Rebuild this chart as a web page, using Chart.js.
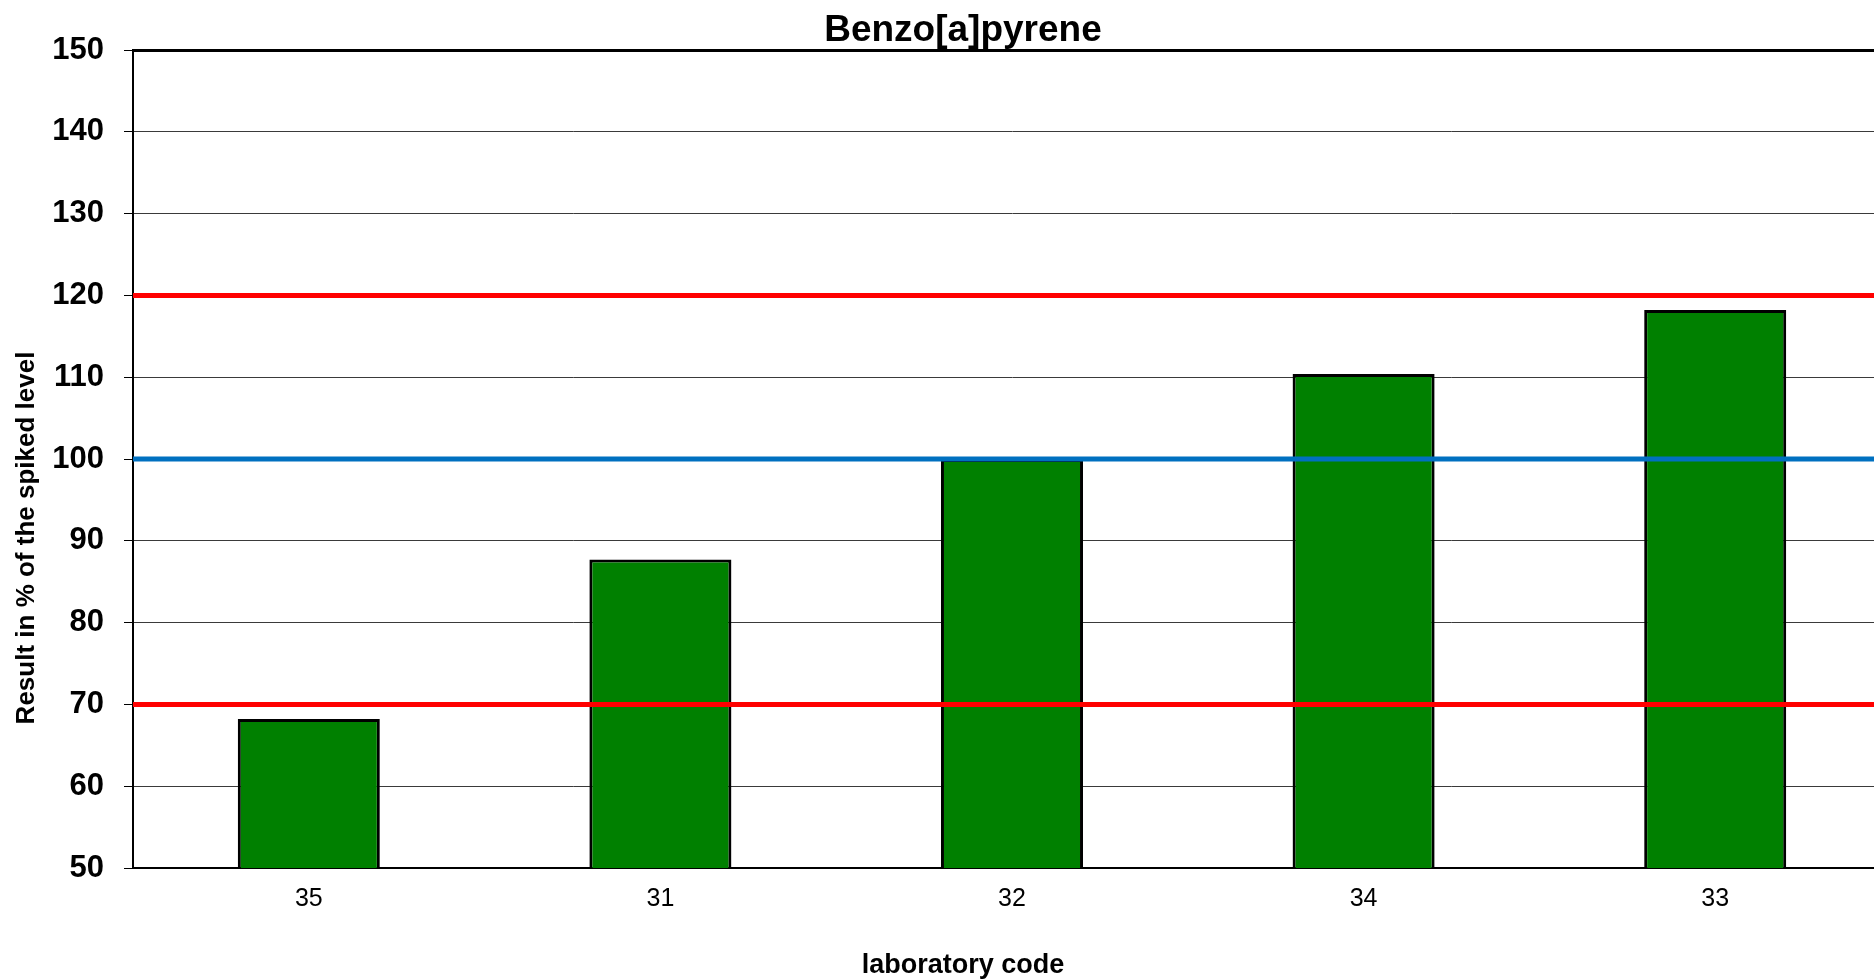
<!DOCTYPE html>
<html>
<head>
<meta charset="utf-8">
<script src="https://cdn.jsdelivr.net/npm/chart.js@4"></script>
<style>
  html, body { margin: 0; padding: 0; background: #fff; overflow: hidden; }
  #chart { display: block; }
</style>
</head>
<body>
<canvas id="chart" width="1900" height="980"></canvas>
<script>
const FONT = "'Liberation Sans', Arial, Helvetica, sans-serif";

// data
const labCodes = ['35', '31', '32', '34', '33'];
const resultPercent = [68.2, 87.7, 100.0, 110.4, 118.2];
const limitLines = [120, 70];   // red
const targetLines = [100];      // blue
const yMin = 50, yMax = 150, yStep = 10;

const chartTitle = 'Benzo[a]pyrene';
const xTitle = 'laboratory code';
const yTitle = 'Result in % of the spiked level';

//? horizontal reference lines, drawn over the bars
const refLinesPlugin = {
    id: 'refLines',
    afterDatasetsDraw: (chart) => {
        const { ctx, chartArea, scales } = chart;
        const drawAt = (value, color) => {
            const y = scales.y.getPixelForValue(value);
            ctx.save();
            ctx.strokeStyle = color;
            ctx.lineWidth = 5;
            ctx.beginPath();
            ctx.moveTo(chartArea.left, y);
            ctx.lineTo(chartArea.right, y);
            ctx.stroke();
            ctx.restore();
        };
        limitLines.forEach(v => drawAt(v, '#ff0000'));
        targetLines.forEach(v => drawAt(v, '#0070c0'));
    }
};

//? titles: the original sits off-centre (its plot runs past the right edge)
const titlesPlugin = {
    id: 'titles',
    afterDraw: (chart) => {
        const { ctx } = chart;
        ctx.save();
        ctx.fillStyle = '#000';
        ctx.textAlign = 'center';
        ctx.textBaseline = 'middle';
        ctx.font = `bold 37px ${FONT}`;
        ctx.fillText(chartTitle, 963, 31);
        ctx.font = `bold 27px ${FONT}`;
        ctx.fillText(xTitle, 963, 966);
        ctx.translate(27, 538);
        ctx.rotate(-Math.PI / 2);
        ctx.font = `bold 26px ${FONT}`;
        ctx.fillText(yTitle, 0, 0);
        ctx.restore();
    }
};

const chart = new Chart('chart', {
    type: 'bar',
    data: {
        labels: labCodes,
        datasets: [{
            data: resultPercent,
            backgroundColor: '#008000',
            borderColor: '#000000',
            borderWidth: 3,
            borderSkipped: false,
            barPercentage: 0.404,
            categoryPercentage: 1.0
        }]
    },
    options: {
        responsive: false,
        animation: false,
        layout: { padding: { left: 0, right: 9, top: 50, bottom: 0 } },
        plugins: {
            legend: { display: false },
            tooltip: { enabled: false },
            title: { display: false }
        },
        scales: {
            x: {
                offset: true,
                grid: { display: false, drawTicks: false },
                border: { display: true, color: '#000', width: 2 },
                ticks: {
                    color: '#000',
                    padding: 16,
                    maxRotation: 0,
                    font: { family: FONT, size: 25 }
                },
                afterFit: (scale) => { scale.height = 112; }
            },
            y: {
                min: yMin,
                max: yMax,
                ticks: {
                    stepSize: yStep,
                    color: '#000',
                    padding: 20,
                    font: { family: FONT, size: 31, weight: 'bold' }
                },
                grid: {
                    color: (c) => c.tick && c.tick.value === yMax ? '#000' : '#3a3a3a',
                    lineWidth: (c) => c.tick && c.tick.value === yMax ? 3 : 1,
                    tickColor: '#000',
                    tickWidth: 1,
                    tickLength: 9
                },
                border: { display: true, color: '#000', width: 2 },
                afterFit: (scale) => { scale.width = 133; }
            }
        }
    },
    plugins: [refLinesPlugin, titlesPlugin]
});
</script>
</body>
</html>
